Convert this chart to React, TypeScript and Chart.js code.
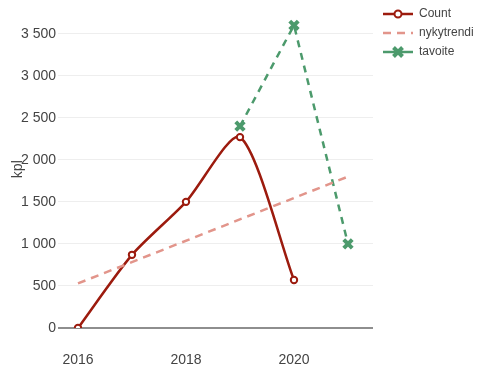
import React, { useEffect, useRef } from "react";
import { Chart, registerables } from "chart.js";

Chart.register(...registerables);

const countYears = [2016, 2017, 2018, 2019, 2020];
const countValues = [0, 870, 1500, 2270, 570];
const trendYears = [2016, 2021];
const trendValues = [530, 1800];
const goalYears = [2019, 2020, 2021];
const goalValues = [2400, 3600, 1000];
const xTicks = [2016, 2018, 2020];
const yTicks = [0, 500, 1000, 1500, 2000, 2500, 3000, 3500];
const seriesNames = ["Count", "nykytrendi", "tavoite"];
const yTitle = "kpl";

const RED = "#9c1b0e";
const SALMON = "#e2958b";
const GREEN = "#4c9a6c";
const FONT = "'Liberation Sans', Arial, sans-serif";
const TEXT = "#444";

const fmt = (v: number) => {
  const s = Math.round(v).toString();
  return s.replace(/\B(?=(\d{3})+(?!\d))/g, " ");
};

const legendPlugin = {
  id: "customLegend",
  afterDraw(chart: any) {
    const ctx = chart.ctx;
    const rows = [
      { name: seriesNames[0], color: RED, dash: [], marker: "circle" },
      { name: seriesNames[1], color: SALMON, dash: [8, 6], marker: "none" },
      { name: seriesNames[2], color: GREEN, dash: [], marker: "x" },
    ];
    const x0 = 383, x1 = 413, tx = 419;
    const ys = [14, 33, 52];
    rows.forEach((r, i) => {
      const y = ys[i];
      ctx.save();
      ctx.strokeStyle = r.color;
      ctx.lineWidth = 2.5;
      ctx.setLineDash(r.dash);
      ctx.beginPath();
      ctx.moveTo(x0, y);
      ctx.lineTo(x1, y);
      ctx.stroke();
      ctx.setLineDash([]);
      const cx = (x0 + x1) / 2;
      if (r.marker === "circle") {
        ctx.fillStyle = "#fff";
        ctx.lineWidth = 2;
        ctx.beginPath();
        ctx.arc(cx, y, 3.5, 0, Math.PI * 2);
        ctx.fill();
        ctx.stroke();
      } else if (r.marker === "x") {
        ctx.lineWidth = 4;
        ctx.beginPath();
        ctx.moveTo(cx - 4.5, y - 4.5);
        ctx.lineTo(cx + 4.5, y + 4.5);
        ctx.moveTo(cx + 4.5, y - 4.5);
        ctx.lineTo(cx - 4.5, y + 4.5);
        ctx.stroke();
      }
      ctx.fillStyle = TEXT;
      ctx.font = `12px ${FONT}`;
      ctx.textBaseline = "middle";
      ctx.textAlign = "left";
      ctx.fillText(r.name, tx, y);
      ctx.restore();
    });
  },
};

export default function App() {
  const ref = useRef<HTMLCanvasElement | null>(null);
  useEffect(() => {
    if (!ref.current) return;
    const chart = new Chart(ref.current, {
      type: "line",
      data: {
        datasets: [
          {
            label: seriesNames[1],
            data: trendYears.map((x, i) => ({ x, y: trendValues[i] })),
            borderColor: SALMON,
            borderWidth: 2.5,
            borderDash: [8, 6],
            pointRadius: 0,
            tension: 0,
          },
          {
            label: seriesNames[2],
            data: goalYears.map((x, i) => ({ x, y: goalValues[i] })),
            borderColor: GREEN,
            backgroundColor: GREEN,
            borderWidth: 2.5,
            borderDash: [7, 6],
            pointStyle: "crossRot",
            pointRadius: 6,
            pointBorderWidth: 4,
            pointBorderColor: GREEN,
            tension: 0,
          },
          {
            label: seriesNames[0],
            data: countYears.map((x, i) => ({ x, y: countValues[i] })),
            borderColor: RED,
            borderWidth: 2.5,
            pointRadius: 3.2,
            pointBorderWidth: 2,
            pointBackgroundColor: "#fff",
            pointBorderColor: RED,
            tension: 0.25,
          },
        ],
      },
      options: {
        animation: false,
        responsive: true,
        maintainAspectRatio: false,
        layout: { padding: { top: 10, right: 104, left: 0, bottom: 0 } },
        plugins: { legend: { display: false }, tooltip: { enabled: false } },
        scales: {
          x: {
            type: "linear",
            min: 2015.63,
            max: 2021.463,
            grid: { display: false },
            border: { display: false },
            afterBuildTicks: (s: any) => {
              s.ticks = xTicks.map((v) => ({ value: v }));
            },
            afterFit: (s: any) => {
              s.height = 43;
            },
            ticks: {
              padding: 16,
              color: TEXT,
              font: { family: FONT, size: 14 },
              callback: (v: any) => String(v),
              maxRotation: 0,
            },
          },
          y: {
            type: "linear",
            min: 0,
            max: 3777,
            border: { display: false },
            grid: {
              drawTicks: false,
              color: (c: any) => (c.tick && c.tick.value === 0 ? "#8e8e8e" : "#eeeeee"),
              lineWidth: (c: any) => (c.tick && c.tick.value === 0 ? 2 : 1),
            },
            afterBuildTicks: (s: any) => {
              s.ticks = yTicks.map((v) => ({ value: v }));
            },
            afterFit: (s: any) => {
              s.width = 58;
            },
            title: {
              display: true,
              text: yTitle,
              color: TEXT,
              font: { family: FONT, size: 14 },
              padding: { top: 10, bottom: 0 },
            },
            ticks: {
              autoSkip: false,
              padding: 2,
              color: TEXT,
              font: { family: FONT, size: 14 },
              callback: (v: any) => fmt(Number(v)),
            },
          },
        },
      },
      plugins: [legendPlugin],
    });
    return () => chart.destroy();
  }, []);
  return (
    <div style={{ position: "fixed", left: 0, top: 0, width: 477, height: 371, background: "#fff" }}>
      <canvas ref={ref} />
    </div>
  );
}
